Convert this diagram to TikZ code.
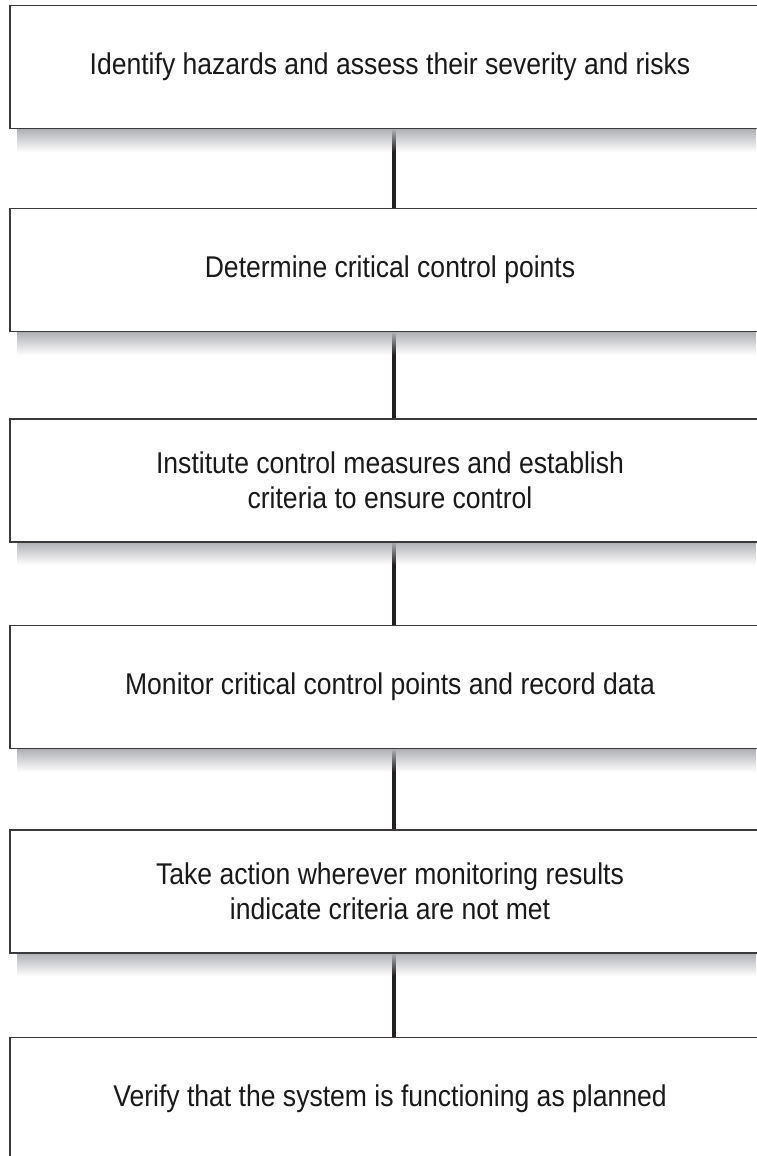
\documentclass[tikz,border=0pt]{standalone}
\usepackage{fontspec}
\setmainfont{Liberation Sans}[FakeStretch=0.885]
\usetikzlibrary{fadings}
\definecolor{boxline}{HTML}{3A3A3A}
\definecolor{connline}{HTML}{231F20}
\definecolor{shadowgray}{HTML}{AFB0B5}
\tikzfading[name=shadowfade, top color=transparent!0, middle color=transparent!15, bottom color=transparent!100]
\begin{document}
\begin{tikzpicture}[x=1pt,y=-1pt,
  stepbox/.style={draw=boxline, line width=1.8pt, fill=white, minimum width=760pt,
    minimum height=123pt, inner sep=0pt, align=center,
    font=\fontsize{30}{35}\selectfont, text=black!90},
  conn/.style={draw=connline, line width=3.5pt},
  boxshade/.style={fill=shadowgray, path fading=shadowfade}]
\useasboundingbox (0,0) rectangle (757,1156);
% connector end points
\coordinate (u1) at (394,129);  \coordinate (t2) at (394,208);
\coordinate (u2) at (394,332);  \coordinate (t3) at (394,419);
\coordinate (u3) at (394,542);  \coordinate (t4) at (394,625);
\coordinate (u4) at (394,749);  \coordinate (t5) at (394,830);
\coordinate (u5) at (394,953);  \coordinate (t6) at (394,1037);
% connectors (drawn first so that shadows and boxes lie over them)
\draw[conn] (u1) -- (t2);
\draw[conn] (u2) -- (t3);
\draw[conn] (u3) -- (t4);
\draw[conn] (u4) -- (t5);
\draw[conn] (u5) -- (t6);
% shadows
\fill[boxshade] (17,129) rectangle (757,152);
\fill[boxshade] (17,332) rectangle (757,355);
\fill[boxshade] (17,542) rectangle (757,565);
\fill[boxshade] (17,749) rectangle (757,772);
\fill[boxshade] (17,953) rectangle (757,976);
% boxes
\node[stepbox] (b1) at (390,67)    {Identify hazards and assess their severity and risks};
\node[stepbox] (b2) at (390,270)   {Determine critical control points};
\node[stepbox] (b3) at (390,480.5) {Institute control measures and establish\\criteria to ensure control};
\node[stepbox] (b4) at (390,687)   {Monitor critical control points and record data};
\node[stepbox] (b5) at (390,891.5) {Take action wherever monitoring results\\indicate criteria are not met};
\node[stepbox] (b6) at (390,1099)  {Verify that the system is functioning as planned};
\end{tikzpicture}
\end{document}
